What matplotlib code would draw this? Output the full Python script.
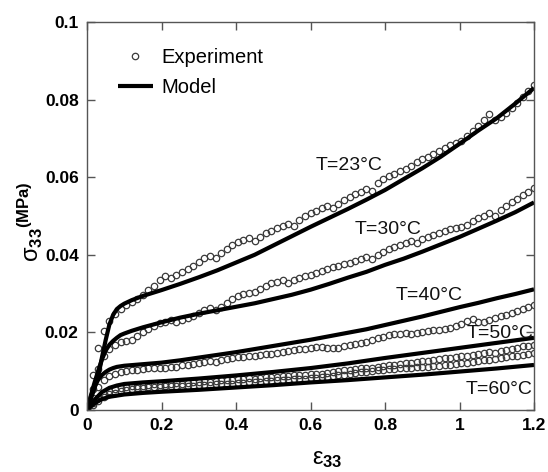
import matplotlib.pyplot as plt

plt.rcParams['font.family'] = ['Liberation Sans', 'DejaVu Sans']
plt.rcParams['mathtext.fontset'] = 'custom'
plt.rcParams['mathtext.rm'] = 'Liberation Sans'
plt.rcParams['mathtext.it'] = 'Liberation Sans'
plt.rcParams['mathtext.bf'] = 'Liberation Sans:bold'

# strain sampling of the experiments
strain_exp = [0.000, 0.015, 0.030, 0.045, 0.060, 0.075, 0.090, 0.105, 0.120, 0.135,
              0.150, 0.165, 0.180, 0.195, 0.210, 0.225, 0.240, 0.255, 0.270, 0.285,
              0.300, 0.315, 0.330, 0.345, 0.360, 0.375, 0.390, 0.405, 0.420, 0.435,
              0.450, 0.465, 0.480, 0.495, 0.510, 0.525, 0.540, 0.555, 0.570, 0.585,
              0.600, 0.615, 0.630, 0.645, 0.660, 0.675, 0.690, 0.705, 0.720, 0.735,
              0.750, 0.765, 0.780, 0.795, 0.810, 0.825, 0.840, 0.855, 0.870, 0.885,
              0.900, 0.915, 0.930, 0.945, 0.960, 0.975, 0.990, 1.005, 1.020, 1.035,
              1.050, 1.065, 1.080, 1.095, 1.110, 1.125, 1.140, 1.155, 1.170, 1.185,
              1.200]

exp_23 = [0.0000, 0.0090, 0.0160, 0.0203, 0.0230, 0.0248, 0.0261, 0.0271, 0.0279, 0.0287,
          0.0297, 0.0308, 0.0320, 0.0335, 0.0345, 0.0340, 0.0348, 0.0355, 0.0363, 0.0372,
          0.0382, 0.0392, 0.0398, 0.0392, 0.0405, 0.0415, 0.0425, 0.0432, 0.0437, 0.0442,
          0.0436, 0.0447, 0.0455, 0.0462, 0.0468, 0.0474, 0.0480, 0.0474, 0.0490, 0.0500,
          0.0508, 0.0514, 0.0520, 0.0526, 0.0520, 0.0532, 0.0542, 0.0549, 0.0556, 0.0562,
          0.0570, 0.0565, 0.0585, 0.0596, 0.0602, 0.0608, 0.0615, 0.0622, 0.0628, 0.0638,
          0.0646, 0.0652, 0.0660, 0.0668, 0.0675, 0.0682, 0.0688, 0.0694, 0.0705, 0.0718,
          0.0732, 0.0748, 0.0764, 0.0747, 0.0756, 0.0766, 0.0778, 0.0792, 0.0806, 0.0822,
          0.0838]

exp_30 = [0.0000, 0.0055, 0.0105, 0.0140, 0.0158, 0.0168, 0.0175, 0.0178, 0.0180, 0.0190,
          0.0200, 0.0208, 0.0216, 0.0223, 0.0228, 0.0232, 0.0226, 0.0233, 0.0238, 0.0243,
          0.0250, 0.0258, 0.0262, 0.0257, 0.0266, 0.0276, 0.0286, 0.0293, 0.0298, 0.0302,
          0.0305, 0.0312, 0.0320, 0.0327, 0.0331, 0.0334, 0.0327, 0.0335, 0.0340, 0.0345,
          0.0349, 0.0353, 0.0358, 0.0363, 0.0368, 0.0372, 0.0376, 0.0379, 0.0384, 0.0390,
          0.0394, 0.0388, 0.0400, 0.0408, 0.0414, 0.0419, 0.0424, 0.0430, 0.0436, 0.0430,
          0.0440, 0.0446, 0.0451, 0.0456, 0.0462, 0.0467, 0.0470, 0.0472, 0.0478, 0.0487,
          0.0494, 0.0500, 0.0508, 0.0500, 0.0515, 0.0527, 0.0535, 0.0545, 0.0555, 0.0563,
          0.0572]

exp_40 = [0.0000, 0.0030, 0.0058, 0.0077, 0.0087, 0.0093, 0.0097, 0.0100, 0.0102, 0.0104,
          0.0105, 0.0107, 0.0108, 0.0109, 0.0107, 0.0110, 0.0112, 0.0115, 0.0117, 0.0119,
          0.0121, 0.0123, 0.0125, 0.0123, 0.0128, 0.0132, 0.0134, 0.0136, 0.0137, 0.0138,
          0.0139, 0.0141, 0.0143, 0.0145, 0.0147, 0.0150, 0.0153, 0.0155, 0.0156, 0.0158,
          0.0160, 0.0162, 0.0163, 0.0161, 0.0159, 0.0161, 0.0164, 0.0167, 0.0170, 0.0173,
          0.0176, 0.0180, 0.0185, 0.0189, 0.0192, 0.0195, 0.0197, 0.0199, 0.0196, 0.0198,
          0.0201, 0.0203, 0.0205, 0.0207, 0.0209, 0.0212, 0.0216, 0.0222, 0.0230, 0.0234,
          0.0226, 0.0228, 0.0232, 0.0236, 0.0241, 0.0245, 0.0250, 0.0256, 0.0261, 0.0266,
          0.0271]

exp_50 = [0.0000, 0.0018, 0.0032, 0.0042, 0.0049, 0.0054, 0.0057, 0.0059, 0.0061, 0.0062,
          0.0063, 0.0064, 0.0066, 0.0065, 0.0067, 0.0067, 0.0069, 0.0068, 0.0070, 0.0071,
          0.0072, 0.0074, 0.0073, 0.0075, 0.0076, 0.0078, 0.0077, 0.0079, 0.0080, 0.0082,
          0.0081, 0.0083, 0.0084, 0.0086, 0.0085, 0.0087, 0.0088, 0.0090, 0.0089, 0.0091,
          0.0092, 0.0094, 0.0093, 0.0096, 0.0098, 0.0100, 0.0102, 0.0104, 0.0106, 0.0108,
          0.0107, 0.0109, 0.0111, 0.0113, 0.0115, 0.0117, 0.0119, 0.0121, 0.0122, 0.0124,
          0.0125, 0.0127, 0.0129, 0.0131, 0.0133, 0.0134, 0.0136, 0.0138, 0.0140, 0.0142,
          0.0145, 0.0148, 0.0150, 0.0148, 0.0151, 0.0155, 0.0158, 0.0161, 0.0164, 0.0166,
          0.0168]

exp_60 = [0.0000, 0.0012, 0.0024, 0.0033, 0.0040, 0.0045, 0.0049, 0.0052, 0.0054, 0.0056,
          0.0057, 0.0058, 0.0059, 0.0060, 0.0061, 0.0061, 0.0062, 0.0062, 0.0063, 0.0063,
          0.0064, 0.0064, 0.0065, 0.0066, 0.0066, 0.0067, 0.0068, 0.0069, 0.0070, 0.0071,
          0.0072, 0.0073, 0.0074, 0.0075, 0.0076, 0.0077, 0.0078, 0.0079, 0.0080, 0.0081,
          0.0082, 0.0083, 0.0085, 0.0086, 0.0088, 0.0089, 0.0091, 0.0093, 0.0095, 0.0097,
          0.0099, 0.0101, 0.0102, 0.0104, 0.0105, 0.0106, 0.0107, 0.0108, 0.0109, 0.0110,
          0.0111, 0.0112, 0.0113, 0.0114, 0.0115, 0.0116, 0.0118, 0.0120, 0.0122, 0.0124,
          0.0126, 0.0128, 0.0130, 0.0132, 0.0134, 0.0136, 0.0138, 0.0140, 0.0142, 0.0144,
          0.0147]

# model curves
strain_23 = [0, 0.01, 0.02, 0.03, 0.04, 0.05, 0.06, 0.07, 0.08, 0.09, 0.1, 0.12, 0.15, 0.2,
             0.25, 0.3, 0.35, 0.4, 0.45, 0.5, 0.55, 0.6, 0.65, 0.7, 0.75, 0.8, 0.85, 0.9,
             0.95, 1.0, 1.05, 1.1, 1.15, 1.2]
model_23 = [0, 0.0028, 0.0056, 0.0086, 0.0135, 0.0180, 0.0220, 0.0245, 0.0260, 0.0268,
            0.0274, 0.0283, 0.0294, 0.0309, 0.0325, 0.0342, 0.0360, 0.0380, 0.0400, 0.0424,
            0.0448, 0.0472, 0.0495, 0.0518, 0.0542, 0.0567, 0.0595, 0.0623, 0.0653, 0.0686,
            0.0720, 0.0752, 0.0790, 0.0830]

strain_30 = [0, 0.01, 0.02, 0.03, 0.04, 0.05, 0.06, 0.07, 0.08, 0.09, 0.1, 0.12, 0.15, 0.2,
             0.25, 0.3, 0.35, 0.4, 0.45, 0.5, 0.55, 0.6, 0.65, 0.7, 0.75, 0.8, 0.85, 0.9,
             0.95, 1.0, 1.05, 1.1, 1.15, 1.2]
model_30 = [0, 0.0036, 0.0070, 0.0101, 0.0130, 0.0153, 0.0168, 0.0178, 0.0186, 0.0193,
            0.0197, 0.0204, 0.0213, 0.0226, 0.0238, 0.0248, 0.0257, 0.0266, 0.0275, 0.0286,
            0.0297, 0.0310, 0.0325, 0.0341, 0.0356, 0.0374, 0.0390, 0.0408, 0.0427, 0.0446,
            0.0467, 0.0488, 0.0510, 0.0535]

strain_40 = [0, 0.01, 0.02, 0.03, 0.04, 0.05, 0.06, 0.07, 0.08, 0.1, 0.15, 0.2, 0.25, 0.3,
             0.35, 0.4, 0.45, 0.5, 0.55, 0.6, 0.65, 0.7, 0.75, 0.8, 0.85, 0.9, 0.95, 1.0,
             1.05, 1.1, 1.15, 1.2]
model_40 = [0, 0.0033, 0.0060, 0.0078, 0.0090, 0.0098, 0.0104, 0.0108, 0.0111, 0.0114,
            0.0118, 0.0122, 0.0128, 0.0135, 0.0142, 0.0149, 0.0157, 0.0165, 0.0173, 0.0181,
            0.0190, 0.0199, 0.0208, 0.0219, 0.0230, 0.0241, 0.0253, 0.0265, 0.0276, 0.0288,
            0.0299, 0.0311]

strain_5060 = [0, 0.02, 0.04, 0.06, 0.08, 0.1, 0.15, 0.2, 0.3, 0.4, 0.5, 0.6, 0.7, 0.8,
               0.9, 1.0, 1.1, 1.2]
model_50 = [0, 0.0026, 0.0046, 0.0057, 0.0063, 0.0067, 0.0071, 0.0074, 0.0081, 0.0089,
            0.0098, 0.0108, 0.0120, 0.0134, 0.0147, 0.0160, 0.0173, 0.0186]
model_60 = [0, 0.0017, 0.0028, 0.0034, 0.0037, 0.0040, 0.0044, 0.0047, 0.0052, 0.0058,
            0.0064, 0.0071, 0.0077, 0.0084, 0.0091, 0.0099, 0.0107, 0.0116]

labels = ['T=23°C', 'T=30°C', 'T=40°C', 'T=50°C', 'T=60°C']
label_x = [0.703, 0.808, 0.918, 1.109, 1.106]
label_y = [0.0629, 0.0464, 0.0294, 0.0198, 0.0054]


def main():
    fig = plt.figure(figsize=(5.48, 4.72), dpi=100)
    ax = fig.add_axes([0.1588, 0.1314, 0.8157, 0.822])

    mk = dict(linestyle='none', marker='o', markersize=4.6, markerfacecolor='none',
              markeredgecolor='#3a3a3a', markeredgewidth=0.9)
    exps = [exp_23, exp_30, exp_40, exp_50, exp_60]
    for i, e in enumerate(exps):
        ax.plot(strain_exp, e, label='Experiment' if i == 0 else None, **mk)

    ln = dict(color='black', linewidth=3, solid_capstyle='butt')
    ax.plot(strain_23, model_23, label='Model', **ln)
    ax.plot(strain_30, model_30, **ln)
    ax.plot(strain_40, model_40, **ln)
    ax.plot(strain_5060, model_50, **ln)
    ax.plot(strain_5060, model_60, **ln)

    for t, x, y in zip(labels, label_x, label_y):
        ax.text(x, y, t, fontsize=14, ha='center', va='center', color='#111111')

    ax.set_xlim(0, 1.2)
    ax.set_ylim(0, 0.1)
    ax.set_xticks([0, 0.2, 0.4, 0.6, 0.8, 1, 1.2])
    ax.set_xticklabels(['0', '0.2', '0.4', '0.6', '0.8', '1', '1.2'])
    ax.set_yticks([0, 0.02, 0.04, 0.06, 0.08, 0.1])
    ax.set_yticklabels(['0', '0.02', '0.04', '0.06', '0.08', '0.1'])
    ax.tick_params(direction='in', length=6, width=1, color='#555555',
                   top=True, right=True, labelsize=12.5, pad=6)
    for lab in ax.get_xticklabels() + ax.get_yticklabels():
        lab.set_fontweight('bold')
    for s in ax.spines.values():
        s.set_color('#555555')
        s.set_linewidth(1)

    ax.legend(loc='upper left', bbox_to_anchor=(0.028, 0.98), frameon=False,
              fontsize=14.5, handlelength=1.75, handletextpad=0.4, labelspacing=0.55)

    fig.text(0.055, 0.53, r'$\mathrm{σ}_{\mathbf{33}}{}^{\mathbf{(MPa)}}$', rotation=90,
             fontsize=17, ha='center', va='center')
    fig.text(0.598, 0.005, r'$\mathrm{ε}_{\mathbf{33}}$', fontsize=17,
             ha='center', va='bottom')

    fig.savefig('out.png', dpi=100)


if __name__ == "__main__":
    main()
